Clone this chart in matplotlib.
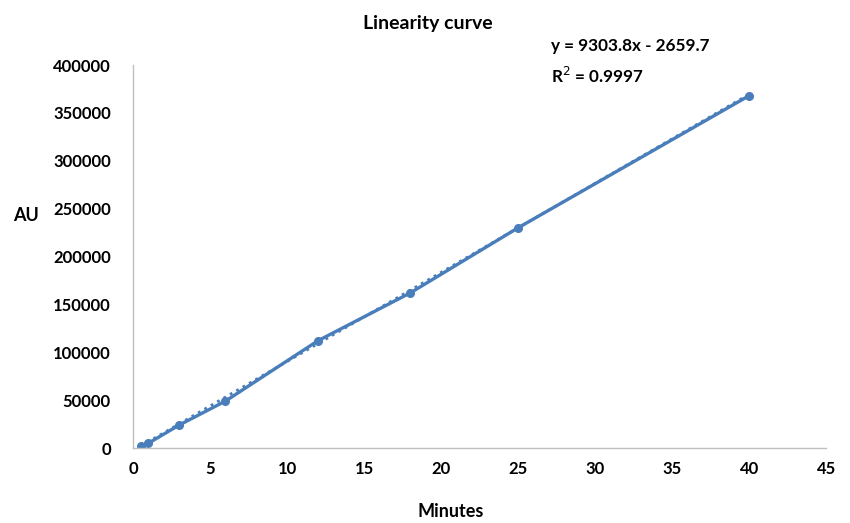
import numpy as np
import matplotlib
matplotlib.use("Agg")
import matplotlib.pyplot as plt

# Data
minutes = [0.5, 1, 3, 6, 12, 18, 25, 40]
au = [2000, 5000, 24000, 49000, 112000, 162000, 230000, 368000]

# Trendline from the chart label
slope, intercept = 9303.8, -2659.7
r2_text = "0.9997"

plt.rcParams['font.family'] = ['Lato', 'DejaVu Sans']
color = "#4A7EBB"

fig = plt.figure(figsize=(8.5, 5.23), dpi=100)
ax = fig.add_axes([0.1565, 0.1434, 0.8155, 0.7323])

xt = np.array([minutes[0], minutes[-1]])
ax.plot(xt, slope * xt + intercept, linestyle=":", color=color, linewidth=2)
ax.plot(minutes, au, color=color, linewidth=2.4, marker="o", markersize=5.5)

ax.set_xlim(0, 45)
ax.set_ylim(0, 400000)
ax.set_xticks(range(0, 46, 5))
ax.set_yticks(range(0, 400001, 50000))
ax.tick_params(length=0, labelsize=12)
ax.tick_params(axis="y", pad=16)
ax.tick_params(axis="x", pad=9)
for lbl in ax.get_xticklabels() + ax.get_yticklabels():
    lbl.set_fontweight("bold")

for s in ["top", "right"]:
    ax.spines[s].set_visible(False)
for s in ["left", "bottom"]:
    ax.spines[s].set_color("#BFBFBF")
    ax.spines[s].set_linewidth(1)

fig.text(0.503, 0.955, "Linearity curve", ha="center", va="center",
         fontsize=14, fontweight="bold")
fig.text(0.648, 0.912, f"y = {slope}x - {abs(intercept)}", ha="left", va="center",
         fontsize=12.3, fontweight="bold")
fig.text(0.648, 0.855, f"R$^2$ = {r2_text}", ha="left", va="center",
         fontsize=12.3, fontweight="bold")
fig.text(0.03, 0.588, "AU", ha="center", va="center", fontsize=13, fontweight="bold")
fig.text(0.53, 0.022, "Minutes", ha="center", va="center", fontsize=13, fontweight="bold")

fig.savefig("out.png", dpi=100)
